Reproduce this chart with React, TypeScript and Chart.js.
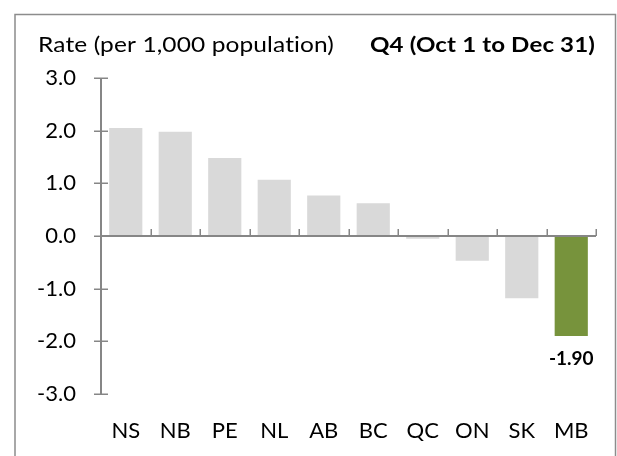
import React, { useEffect, useRef } from "react";
import { Chart, registerables } from "chart.js";

Chart.register(...registerables);

const categories = ["NS", "NB", "PE", "NL", "AB", "BC", "QC", "ON", "SK", "MB"];
const rates = [2.05, 1.98, 1.48, 1.07, 0.77, 0.62, -0.05, -0.47, -1.18, -1.9];
const highlightIndex = 9;
const highlightLabel = "-1.90";
const titleLeft = "Rate (per 1,000 population)";
const titleRight = "Q4 (Oct 1 to Dec 31)";
const yMin = -3;
const yMax = 3;
const yStep = 1;

const FONT = "Lato, 'Open Sans', sans-serif";
const AXIS = "#868686";
const GRAY = "#D9D9D9";
const GREEN = "#77933C";

function fitText(ctx: any, text: string, x0: number, x1: number, y: number) {
  ctx.letterSpacing = "0.1px";
  const w = ctx.measureText(text).width;
  const k = (x1 - x0) / w;
  ctx.save();
  ctx.translate(x0, y);
  ctx.scale(k, 1);
  ctx.textAlign = "left";
  ctx.fillText(text, 0, 0);
  ctx.restore();
  ctx.letterSpacing = "0px";
}

const decorPlugin = {
  id: "decor",
  beforeDraw(chart: any) {
    const ctx = chart.ctx;
    ctx.save();
    ctx.fillStyle = "#ffffff";
    ctx.fillRect(0, 0, chart.width, chart.height);
    ctx.strokeStyle = "#8c8c8c";
    ctx.lineWidth = 1.5;
    ctx.strokeRect(15, 14.5, 600.5, 500);
    ctx.restore();
  },
  afterDatasetsDraw(chart: any) {
    const ctx = chart.ctx;
    const area = chart.chartArea;
    const y = chart.scales.y;
    const x = chart.scales.x;
    ctx.save();
    ctx.strokeStyle = AXIS;
    ctx.lineWidth = 2;
    ctx.beginPath();
    ctx.moveTo(area.left, y.getPixelForValue(yMax));
    ctx.lineTo(area.left, y.getPixelForValue(yMin));
    ctx.stroke();
    ctx.lineWidth = 1.5;
    for (let v = yMin; v <= yMax; v += yStep) {
      const py = Math.round(y.getPixelForValue(v)) + 0.25;
      ctx.beginPath();
      ctx.moveTo(area.left - 7, py);
      ctx.lineTo(area.left + 7, py);
      ctx.stroke();
    }
    const y0 = y.getPixelForValue(0);
    ctx.lineWidth = 2;
    ctx.beginPath();
    ctx.moveTo(area.left, y0);
    ctx.lineTo(area.right, y0);
    ctx.stroke();
    ctx.lineWidth = 1.5;
    const w = (area.right - area.left) / categories.length;
    for (let i = 1; i <= categories.length; i++) {
      const px = Math.round(area.left + i * w) + 0.25;
      ctx.beginPath();
      ctx.moveTo(px, y0);
      ctx.lineTo(px, y0 - 7);
      ctx.stroke();
    }
    const meta = chart.getDatasetMeta(0);
    const bar = meta.data[highlightIndex];
    ctx.fillStyle = "#000";
    ctx.font = `bold 19px ${FONT}`;
    ctx.textAlign = "center";
    ctx.textBaseline = "middle";
    ctx.fillText(highlightLabel, x.getPixelForValue(highlightIndex), bar.y + 23);
    ctx.textBaseline = "middle";
    ctx.font = `22px ${FONT}`;
    fitText(ctx, titleLeft, 38, 334, 45);
    ctx.font = `bold 21px ${FONT}`;
    fitText(ctx, titleRight, 370, 595, 45);
    ctx.restore();
  },
};

export default function App() {
  const ref = useRef<HTMLCanvasElement>(null);
  useEffect(() => {
    document.body.style.margin = "0";
    const canvas = ref.current!;
    const chart = new Chart(canvas, {
      type: "bar",
      data: {
        labels: categories,
        datasets: [
          {
            data: rates,
            backgroundColor: rates.map((_, i) => (i === highlightIndex ? GREEN : GRAY)),
            borderWidth: 0,
            barPercentage: 0.67,
            categoryPercentage: 1,
          },
        ],
      },
      options: {
        responsive: false,
        animation: false,
        events: [],
        layout: { padding: { top: 78, right: 21, left: 0, bottom: 0 } },
        plugins: { legend: { display: false }, tooltip: { enabled: false }, title: { display: false } },
        scales: {
          x: {
            grid: { display: false, drawTicks: false },
            border: { display: false },
            ticks: { color: "#000", font: { family: FONT, size: 22 }, padding: 24, maxRotation: 0 },
            afterFit: (s: any) => {
              s.height = 62;
            },
          },
          y: {
            min: yMin,
            max: yMax,
            grid: { display: false, drawTicks: false },
            border: { display: false },
            ticks: {
              stepSize: yStep,
              color: "#000",
              font: { family: FONT, size: 22 },
              padding: 25,
              callback: (v: any) => Number(v).toFixed(1),
            },
            afterFit: (s: any) => {
              s.width = 101;
            },
          },
        },
      },
      plugins: [decorPlugin],
    });
    return () => chart.destroy();
  }, []);
  return (
    <div style={{ width: 617, height: 456 }}>
      <canvas ref={ref} width={617} height={456} />
    </div>
  );
}
